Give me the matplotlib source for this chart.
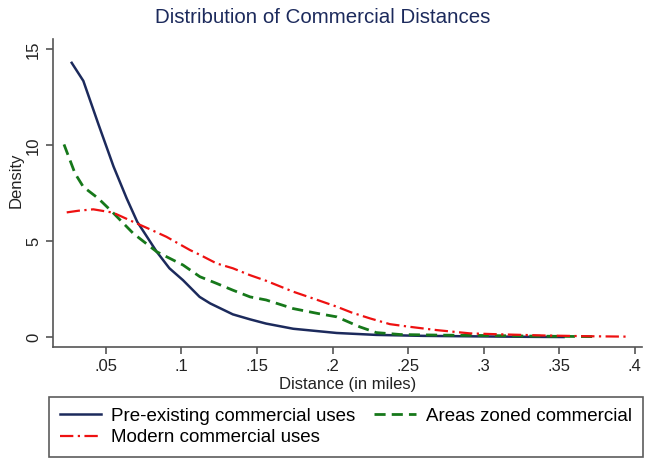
import matplotlib
matplotlib.use('Agg')
import matplotlib.pyplot as plt

plt.rcParams['font.family'] = ['Liberation Sans', 'DejaVu Sans']

pre_x = [0.0273, 0.035, 0.045, 0.055, 0.0637, 0.0707, 0.0836, 0.092, 0.101, 0.112,
         0.119, 0.134, 0.1454, 0.156, 0.174, 0.2028, 0.229, 0.26, 0.30, 0.33, 0.353]
pre_y = [14.3, 13.36, 11.1, 8.9, 7.24, 6.02, 4.46, 3.6, 2.98, 2.11,
         1.77, 1.2, 0.94, 0.72, 0.45, 0.23, 0.13, 0.08, 0.05, 0.03, 0.02]

zoned_x = [0.0222, 0.0295, 0.035, 0.0449, 0.0546, 0.068, 0.0836, 0.101, 0.1122, 0.1233,
           0.134, 0.1454, 0.156, 0.174, 0.19, 0.2028, 0.218, 0.229, 0.245, 0.27,
           0.30, 0.33, 0.373]
zoned_y = [10.05, 8.54, 7.84, 7.24, 6.5, 5.42, 4.46, 3.77, 3.16, 2.81,
           2.46, 2.11, 1.95, 1.5, 1.25, 1.07, 0.55, 0.25, 0.15, 0.12,
           0.1, 0.07, 0.04]

modern_x = [0.024, 0.032, 0.0416, 0.0546, 0.068, 0.080, 0.090, 0.1056, 0.1122, 0.1233,
            0.134, 0.1454, 0.156, 0.174, 0.19, 0.2028, 0.2125, 0.2248, 0.238, 0.2513,
            0.269, 0.291, 0.311, 0.34, 0.37, 0.395]
modern_y = [6.51, 6.6, 6.67, 6.5, 6.02, 5.6, 5.24, 4.55, 4.3, 3.85,
            3.6, 3.24, 2.95, 2.38, 1.95, 1.6, 1.3, 0.99, 0.69, 0.55,
            0.38, 0.21, 0.16, 0.1, 0.06, 0.04]

xticks = [0.05, 0.1, 0.15, 0.2, 0.25, 0.3, 0.35, 0.4]
xtick_labels = ['.05', '.1', '.15', '.2', '.25', '.3', '.35', '.4']
yticks = [0, 5, 10, 15]

fig = plt.figure(figsize=(6.46, 4.59), dpi=100)
ax = fig.add_axes([0.082, 0.244, 0.912, 0.671])

ax.plot(pre_x, pre_y, color='#1c2a5c', lw=1.8, linestyle='-', label='Pre-existing commercial uses')
ax.plot(zoned_x, zoned_y, color='#16781a', lw=2.0, linestyle=(0, (4, 2.2)), label='Areas zoned commercial')
ax.plot(modern_x, modern_y, color='#ee1111', lw=1.6, linestyle=(0, (6, 2, 1, 2)), label='Modern commercial uses')

ax.set_xlim(0.0149, 0.405)
ax.set_ylim(-0.5, 15.54)
ax.set_xticks(xticks)
ax.set_xticklabels(xtick_labels)
ax.set_yticks(yticks)
ax.set_yticklabels([str(v) for v in yticks], rotation=90, va='center')

for s in ['top', 'right']:
    ax.spines[s].set_visible(False)
for s in ['left', 'bottom']:
    ax.spines[s].set_color('#555555')
    ax.spines[s].set_linewidth(1.2)
ax.tick_params(colors='#555555', labelcolor='#222222', labelsize=12, length=5, width=1.2)

ax.set_xlabel('Distance (in miles)', fontsize=12, color='#222222', labelpad=2)
ax.set_ylabel('Density', fontsize=12, color='#222222')
ax.yaxis.set_label_coords(-0.049, 0.54)
fig.suptitle('Distribution of Commercial Distances', fontsize=14.8, color='#1c2a5c', y=0.982)

h, l = ax.get_legend_handles_labels()
leg = fig.legend([h[0], h[2], h[1]], [l[0], l[2], l[1]], ncol=2, loc='lower center',
                 bbox_to_anchor=(0.5356, 0.004), borderaxespad=0, fontsize=13.5,
                 frameon=True, fancybox=False, edgecolor='#333333', handlelength=2.2,
                 columnspacing=1.0, borderpad=0.58, labelspacing=0.22, handletextpad=0.55)
leg.get_frame().set_linewidth(1.2)

fig.savefig('out.png', dpi=100)
